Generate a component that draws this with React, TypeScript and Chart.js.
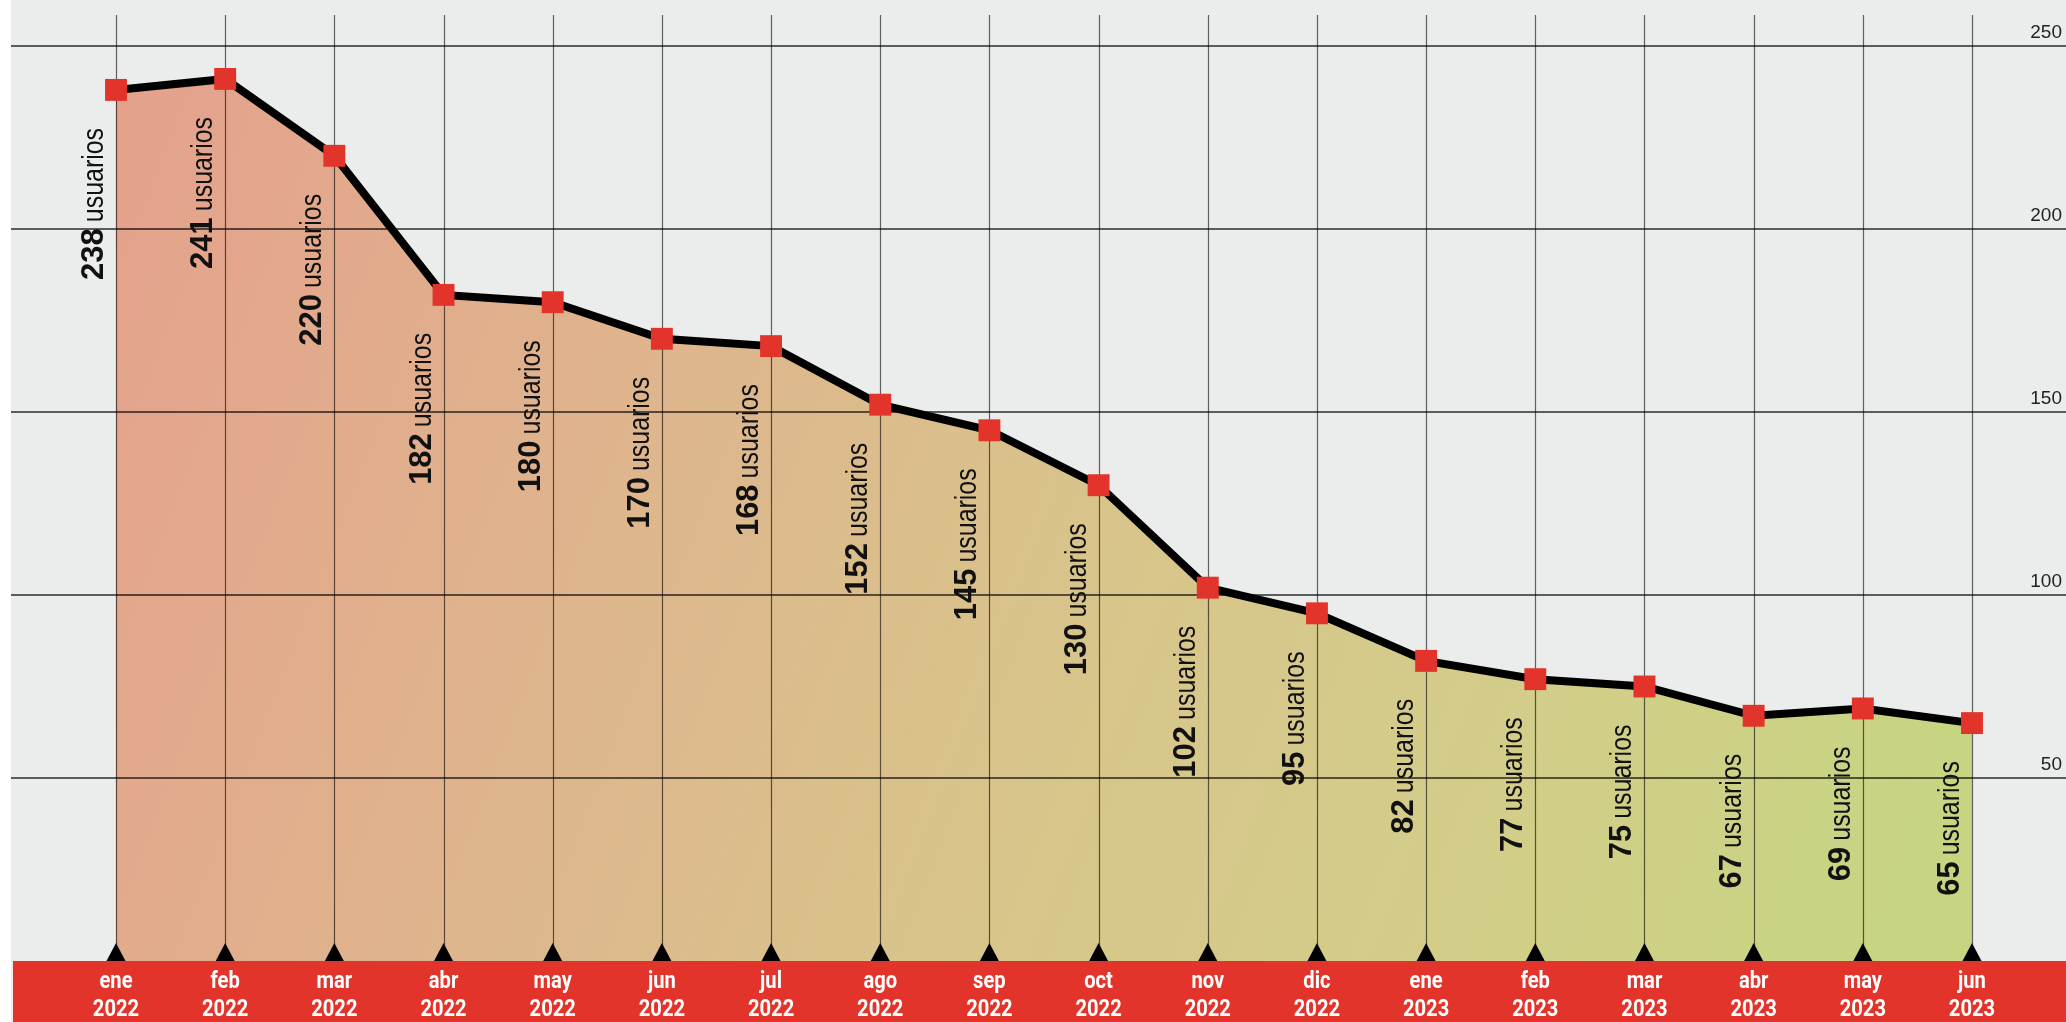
import React, { useEffect, useRef } from "react";
import { Chart, registerables } from "chart.js";

Chart.register(...registerables);

const months = ["ene", "feb", "mar", "abr", "may", "jun", "jul", "ago", "sep", "oct", "nov", "dic", "ene", "feb", "mar", "abr", "may", "jun"];
const years = ["2022", "2022", "2022", "2022", "2022", "2022", "2022", "2022", "2022", "2022", "2022", "2022", "2023", "2023", "2023", "2023", "2023", "2023"];
const users = [238, 241, 220, 182, 180, 170, 168, 152, 145, 130, 102, 95, 82, 77, 75, 67, 69, 65];
const yTicks = [50, 100, 150, 200, 250];
const unitWord = "usuarios";

const W = 2066;
const H = 1022;
const GRAY = "#ebedec";
const RED = "#e3342b";

const decorPlugin = {
  id: "decor",
  beforeDraw(chart: any) {
    const ctx = chart.ctx;
    ctx.save();
    ctx.fillStyle = "#ffffff";
    ctx.fillRect(0, 0, W, H);
    ctx.fillStyle = GRAY;
    ctx.fillRect(11, 0, W - 11, H);
    ctx.restore();
  },
  beforeDatasetDraw(chart: any) {
    const ctx = chart.ctx;
    const xs = chart.scales.x;
    const ys = chart.scales.y;
    const bottom = ys.getPixelForValue(0);
    ctx.save();
    ctx.strokeStyle = "rgba(0,0,0,0.6)";
    ctx.lineWidth = 1.2;
    for (let i = 0; i < months.length; i++) {
      const x = Math.round(xs.getPixelForValue(i)) + 0.5;
      ctx.beginPath();
      ctx.moveTo(x, 15);
      ctx.lineTo(x, bottom);
      ctx.stroke();
    }
    ctx.strokeStyle = "rgba(0,0,0,0.82)";
    ctx.lineWidth = 1.5;
    ctx.fillStyle = "#222";
    ctx.font = "19px 'Liberation Sans', Arial, sans-serif";
    ctx.textAlign = "right";
    ctx.textBaseline = "alphabetic";
    for (const t of yTicks) {
      const y = Math.round(ys.getPixelForValue(t));
      ctx.beginPath();
      ctx.moveTo(11, y);
      ctx.lineTo(W, y);
      ctx.stroke();
      ctx.fillText(String(t), 2062, y - 8);
    }
    ctx.restore();
  },
  afterDatasetsDraw(chart: any) {
    const ctx = chart.ctx;
    const xs = chart.scales.x;
    const ys = chart.scales.y;
    const bottom = ys.getPixelForValue(0);
    ctx.save();
    for (let i = 0; i < users.length; i++) {
      const x = xs.getPixelForValue(i);
      const y = ys.getPixelForValue(users[i]);
      ctx.save();
      ctx.translate(x - 13, y + 38);
      ctx.rotate(-Math.PI / 2);
      ctx.fillStyle = "#111";
      ctx.textBaseline = "alphabetic";
      ctx.textAlign = "right";
      ctx.font = "29px 'Liberation Sans', Arial, sans-serif";
      const wWord = ctx.measureText(unitWord).width * 0.86;
      ctx.save();
      ctx.scale(0.86, 1);
      ctx.fillText(unitWord, 0, 0);
      ctx.restore();
      ctx.font = "bold 31px 'Liberation Sans', Arial, sans-serif";
      ctx.fillText(String(users[i]), -wWord - 6, 0);
      ctx.restore();
    }
    ctx.fillStyle = "#000";
    for (let i = 0; i < months.length; i++) {
      const x = xs.getPixelForValue(i);
      ctx.beginPath();
      ctx.moveTo(x, bottom - 18);
      ctx.lineTo(x + 9.5, bottom);
      ctx.lineTo(x - 9.5, bottom);
      ctx.closePath();
      ctx.fill();
    }
    ctx.fillStyle = RED;
    ctx.fillRect(13, bottom, W - 13, H - bottom);
    ctx.fillStyle = "#ffffff";
    ctx.textAlign = "center";
    ctx.textBaseline = "alphabetic";
    ctx.font = "bold 24px Roboto, 'Noto Sans', sans-serif";
    for (let i = 0; i < months.length; i++) {
      const x = xs.getPixelForValue(i);
      ctx.save();
      ctx.translate(x, 0);
      ctx.scale(0.84, 1);
      ctx.fillText(months[i], 0, bottom + 27);
      ctx.fillText(years[i], 0, bottom + 55);
      ctx.restore();
    }
    ctx.restore();
  },
};

export default function App() {
  const ref = useRef<HTMLCanvasElement | null>(null);
  useEffect(() => {
    const canvas = ref.current;
    if (!canvas) return;
    const chart = new Chart(canvas, {
      type: "line",
      data: {
        labels: months.map((m, i) => [m, years[i]]),
        datasets: [
          {
            data: users,
            borderColor: "#000",
            borderWidth: 8,
            tension: 0,
            fill: "origin",
            clip: false as any,
            backgroundColor: (c: any) => {
              const area = c.chart.chartArea;
              if (!area) return "rgba(220,190,140,1)";
              const g = c.chart.ctx.createLinearGradient(area.left, area.top, area.right, area.bottom - 200);
              g.addColorStop(0, "rgb(229,160,140)");
              g.addColorStop(0.3, "rgb(223,180,141)");
              g.addColorStop(0.55, "rgb(216,196,139)");
              g.addColorStop(0.78, "rgb(211,205,137)");
              g.addColorStop(1, "rgb(199,213,130)");
              return g;
            },
            pointStyle: "rect",
            pointRadius: 15.5,
            pointHoverRadius: 15.5,
            pointBackgroundColor: RED,
            pointBorderColor: RED,
            pointBorderWidth: 0,
          },
        ],
      },
      options: {
        responsive: false,
        animation: false,
        devicePixelRatio: 1,
        layout: { padding: { left: 116, right: W - 1972, top: 46, bottom: H - 961 } },
        scales: {
          x: { type: "category", offset: false, display: false },
          y: { type: "linear", min: 0, max: 250, display: false },
        },
        plugins: {
          legend: { display: false },
          tooltip: { enabled: false },
        },
        events: [],
      },
      plugins: [decorPlugin],
    });
    return () => chart.destroy();
  }, []);
  return (
    <div style={{ position: "fixed", left: 0, top: 0, width: W, height: H }}>
      <canvas ref={ref} width={W} height={H} style={{ width: W, height: H, display: "block" }} />
    </div>
  );
}
